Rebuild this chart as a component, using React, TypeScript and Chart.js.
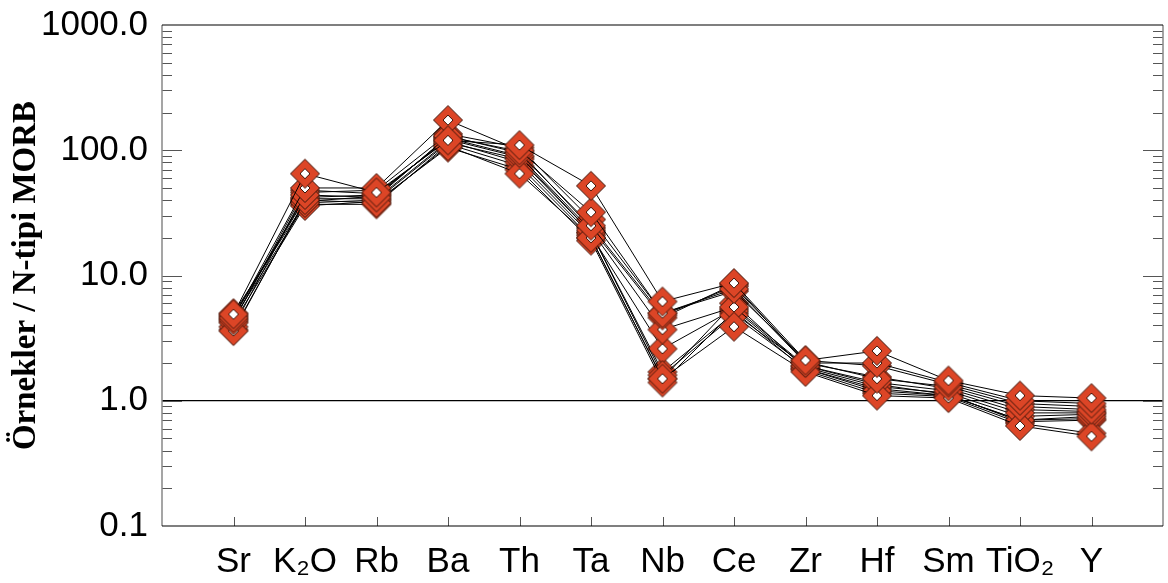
import React, { useEffect, useRef } from "react";
import { Chart, registerables } from "chart.js";

Chart.register(...registerables);

// Categories (elements, MORB-normalised spider diagram)
const ELEMENTS = ["Sr", "K₂O", "Rb", "Ba", "Th", "Ta", "Nb", "Ce", "Zr", "Hf", "Sm", "TiO₂", "Y"];
const Y_DECADES = [0.1, 1, 10, 100, 1000];
const MINOR_MULT = [2, 3, 4, 5, 6, 7, 8, 9];

// Sample values (Sr, K2O, Rb, Ba, Th, Ta, Nb, Ce, Zr, Hf, Sm, TiO2, Y)
const S01 = [4.9, 65, 46, 120, 110, 52, 6.2, 8.7, 2.1, 2.5, 1.45, 1.1, 1.05];
const S02 = [4.6, 50, 50, 174, 100, 32, 5.0, 7.8, 2.0, 2.0, 1.4, 1.0, 0.95];
const S03 = [4.4, 44, 42, 130, 95, 25, 4.8, 8.2, 2.05, 1.5, 1.3, 0.9, 0.85];
const S04 = [3.6, 40, 38, 108, 65, 20, 1.5, 3.9, 1.7, 1.1, 1.05, 0.63, 0.52];
const S05 = [4.8, 42, 44, 125, 90, 23, 3.7, 5.6, 1.9, 1.4, 1.2, 0.8, 0.8];
const S06 = [5.0, 38, 40, 115, 85, 22, 1.6, 4.8, 1.8, 1.2, 1.1, 0.7, 0.75];
const S07 = [4.2, 36, 39, 105, 70, 19, 1.4, 5.2, 1.75, 1.15, 1.08, 0.66, 0.55];
const S08 = [3.9, 46, 48, 135, 105, 28, 5.0, 7.5, 2.1, 1.9, 1.35, 0.95, 0.9];
const S09 = [4.7, 41, 41, 118, 80, 21, 2.6, 5.4, 1.85, 1.3, 1.15, 0.75, 0.78];
const S10 = [4.5, 37, 37, 112, 75, 20, 1.5, 6.0, 1.8, 1.25, 1.1, 0.7, 0.72];
const S11 = [3.7, 39, 43, 128, 98, 24, 4.6, 8.5, 2.0, 1.55, 1.25, 0.85, 0.82];
const S12 = [4.3, 48, 45, 122, 88, 22, 1.7, 5.0, 1.9, 1.35, 1.12, 0.68, 0.7];
const SAMPLES = [S01, S02, S03, S04, S05, S06, S07, S08, S09, S10, S11, S12];

const Y_TITLE = "Örnekler / N-tipi MORB";

function makeMarker(): HTMLCanvasElement {
  const size = 32;
  const c = document.createElement("canvas");
  c.width = size;
  c.height = size;
  const g = c.getContext("2d")!;
  const m = size / 2;
  const R = 15;
  const r = 5;
  const diamond = (h: number) => {
    g.beginPath();
    g.moveTo(m, m - h);
    g.lineTo(m + h, m);
    g.lineTo(m, m + h);
    g.lineTo(m - h, m);
    g.closePath();
  };
  diamond(R - 0.5);
  g.fillStyle = "#DC4526";
  g.fill();
  g.lineWidth = 1;
  g.strokeStyle = "#3e160b";
  g.stroke();
  diamond(r);
  g.fillStyle = "#ffffff";
  g.fill();
  g.stroke();
  return c;
}

const frameTicks = {
  id: "frameTicks",
  beforeDatasetsDraw(chart: any) {
    const { ctx, chartArea: a, scales } = chart;
    const ys = scales.y;
    const xs = scales.x;
    ctx.save();
    ctx.lineWidth = 1;
    ctx.strokeStyle = "#555";
    ctx.beginPath();
    for (let d = 0; d < Y_DECADES.length - 1; d++) {
      const dec = Y_DECADES[d];
      const vals = [dec, ...MINOR_MULT.map((k) => dec * k)];
      vals.forEach((v, i) => {
        const p = Math.round(ys.getPixelForValue(v)) + 0.5;
        if (p <= a.top + 1 || p >= a.bottom - 1) return;
        const len = i === 0 ? 20 : 10;
        ctx.moveTo(a.left, p);
        ctx.lineTo(a.left + len, p);
        ctx.moveTo(a.right, p);
        ctx.lineTo(a.right - len, p);
      });
    }
    ELEMENTS.forEach((_, i) => {
      const px = Math.round(xs.getPixelForValue(i + 1)) + 0.5;
      ctx.moveTo(px, a.bottom);
      ctx.lineTo(px, a.bottom - 9);
    });
    ctx.stroke();
    // frame
    ctx.strokeStyle = "#888";
    ctx.lineWidth = 1.5;
    ctx.beginPath();
    ctx.moveTo(a.left, a.top);
    ctx.lineTo(a.left, a.bottom);
    ctx.moveTo(a.right, a.top);
    ctx.lineTo(a.right, a.bottom);
    ctx.stroke();
    ctx.strokeStyle = "#000";
    ctx.lineWidth = 1.2;
    ctx.beginPath();
    ctx.moveTo(a.left, a.top);
    ctx.lineTo(a.right, a.top);
    ctx.moveTo(a.left, a.bottom);
    ctx.lineTo(a.right, a.bottom);
    ctx.stroke();
    ctx.restore();
  },
};

export default function App() {
  const ref = useRef<HTMLCanvasElement | null>(null);

  useEffect(() => {
    document.body.style.margin = "0";
    const marker = makeMarker();
    const chart = new Chart(ref.current!, {
      type: "line",
      data: {
        datasets: SAMPLES.map((s, k) => ({
          label: "Örnek " + (k + 1),
          data: s.map((v, i) => ({ x: i + 1, y: v })),
          borderColor: "#000",
          borderWidth: 1,
          tension: 0,
          pointStyle: marker as any,
          pointRadius: 15,
          pointHoverRadius: 15,
        })),
      },
      options: {
        animation: false,
        responsive: false,
        maintainAspectRatio: false,
        events: [],
        layout: { autoPadding: false, padding: { left: 0, right: 5, top: 25, bottom: 0 } },
        plugins: { legend: { display: false }, tooltip: { enabled: false } },
        scales: {
          x: {
            type: "linear",
            min: 0,
            max: ELEMENTS.length + 1,
            border: { display: false },
            grid: { display: false, drawTicks: false },
            afterBuildTicks: (s: any) => {
              s.ticks = ELEMENTS.map((_, i) => ({ value: i + 1 }));
            },
            afterFit: (s: any) => {
              s.height = 57;
              s.paddingLeft = 0;
              s.paddingRight = 0;
            },
            ticks: {
              autoSkip: false,
              maxRotation: 0,
              padding: 15,
              color: "#000",
              font: { family: "Liberation Sans", size: 35 },
              callback: (v: any) => ELEMENTS[Number(v) - 1] ?? "",
            },
          },
          y: {
            type: "logarithmic",
            min: 0.1,
            max: 1000,
            border: { display: false },
            afterBuildTicks: (s: any) => {
              s.ticks = Y_DECADES.map((v) => ({ value: v }));
            },
            afterFit: (s: any) => {
              s.width = 162;
              s.paddingTop = 0;
              s.paddingBottom = 0;
            },
            grid: {
              drawTicks: false,
              color: (c: any) => (c.tick && c.tick.value === 1 ? "#000" : "rgba(0,0,0,0)"),
              lineWidth: 1.2,
            },
            ticks: {
              padding: 14,
              color: "#000",
              font: { family: "Liberation Sans", size: 35 },
              callback: (v: any) => Number(v).toFixed(1),
            },
            title: {
              display: true,
              text: Y_TITLE,
              color: "#000",
              font: { family: "Liberation Serif", size: 33, weight: "bold" },
              padding: { top: 7, bottom: 0 },
            },
          },
        },
      },
      plugins: [frameTicks],
    });
    return () => chart.destroy();
  }, []);

  return (
    <div style={{ width: 1168, height: 583, background: "#fff" }}>
      <canvas ref={ref} width={1168} height={583} style={{ display: "block" }} />
    </div>
  );
}
